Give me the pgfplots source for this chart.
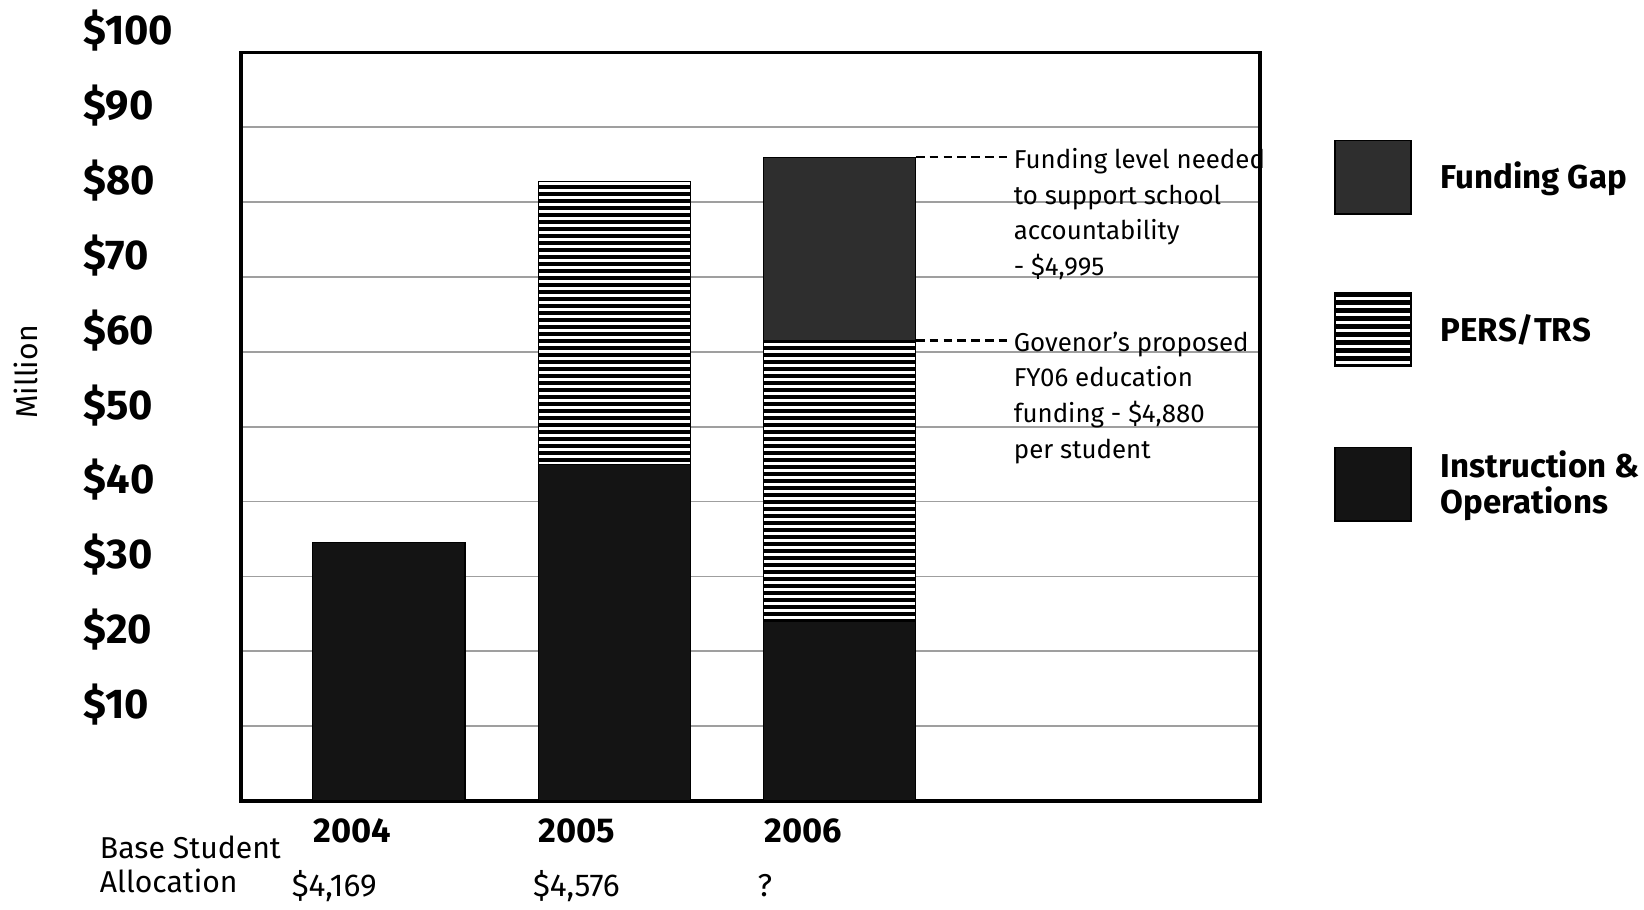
\documentclass[border=0pt]{standalone}
\usepackage{fontspec}
\setmainfont{Fira Sans}
\usepackage{pgfplots}
\pgfplotsset{compat=1.18}
\usetikzlibrary{patterns}
\pgfdeclarepatternformonly{stripes}{\pgfpointorigin}{\pgfpoint{700pt}{2.6pt}}{\pgfpoint{700pt}{2.6pt}}{\pgfpathrectangle{\pgfpointorigin}{\pgfpoint{700pt}{1.1pt}}\pgfusepath{fill}}
\begin{document}
\begin{tikzpicture}
\begin{axis}[
  scale only axis, width=354.7pt, height=260.6pt,
  ybar stacked, bar width=53pt,
  xmin=-0.656, xmax=3.865, ymin=0, ymax=100,
  xtick={0,1,2}, xticklabels={2004,2005,2006},
  ytick={10,20,...,100},
  yticklabels={\$10,\$20,\$30,\$40,\$50,\$60,\$70,\$80,\$90,\$100},
  major tick length=0pt,
  ymajorgrids, major grid style={gray!75, line width=0.6pt},
  axis line style={line width=1.2pt},
  yticklabel style={font=\fontsize{14.5}{16}\selectfont\bfseries, anchor=west, xshift=-55pt, yshift=7.5pt, inner sep=0pt},
  xticklabel style={font=\fontsize{12}{14}\selectfont\bfseries, anchor=north west, xshift=-26.5pt, yshift=-6pt, inner sep=0pt},
  ylabel={Million},
  ylabel style={at={(rel axis cs:-0.211,0.573)}, anchor=center, font=\fontsize{10.5}{12}\selectfont},
  clip=false,
  legend image code/.code={\draw[#1, draw=black, line width=0.6pt] (0pt,-12.75pt) rectangle (26.5pt,12.75pt);},
  reverse legend,
  legend style={draw=none, fill=none, at={(rel axis cs:1.072,0.884)}, anchor=north west, inner sep=0pt, row sep=27pt, column sep=8pt, font=\fontsize{11.5}{13.5}\selectfont\bfseries},
  legend cell align=left,
]
\addplot[fill=black!92, draw=black] coordinates {(0,34.5) (1,45) (2,24)};
\addlegendentry{\shortstack[l]{Instruction \&\\Operations}}
\addplot[fill=black, draw=black, postaction={pattern=stripes, pattern color=white}] coordinates {(0,0) (1,37.8) (2,37.5)};
\addlegendentry{PERS/TRS}
\addplot[fill=black!82, draw=black] coordinates {(0,0) (1,0) (2,24.5)};
\addlegendentry{Funding Gap}

\coordinate (O) at (rel axis cs:0,0);

\draw[dash pattern=on 3pt off 1.8pt, line width=0.9pt] (axis cs:2.338,86) -- (axis cs:2.765,86);
\node[anchor=north west, align=left, inner sep=0pt, font=\fontsize{9}{12.4}\selectfont, yshift=3.3pt] at (axis cs:2.77,86) {Funding level needed\\to support school\\accountability\\- \$4,995};
\draw[dash pattern=on 3pt off 1.8pt, line width=0.9pt] (axis cs:2.338,61.5) -- (axis cs:2.765,61.5);
\node[anchor=north west, align=left, inner sep=0pt, font=\fontsize{9}{12.4}\selectfont, yshift=3.3pt] at (axis cs:2.77,61.5) {Govenor’s proposed\\FY06 education\\funding - \$4,880\\per student};

\node[anchor=west, inner sep=0pt, font=\fontsize{10.5}{12}\selectfont, yshift=-16pt] at (rel axis cs:-0.139,0) {Base Student};
\node[anchor=west, inner sep=0pt, font=\fontsize{10.5}{12}\selectfont, yshift=-27.7pt] at (rel axis cs:-0.139,0) {Allocation};
\node[anchor=west, inner sep=0pt, font=\fontsize{11}{12}\selectfont, yshift=-29.6pt] at (axis cs:-0.433,0) {\$4,169};
\node[anchor=west, inner sep=0pt, font=\fontsize{11}{12}\selectfont, yshift=-29.6pt] at (axis cs:0.637,0) {\$4,576};
\node[anchor=west, inner sep=0pt, font=\fontsize{11}{12}\selectfont, yshift=-29.6pt] at (axis cs:1.633,0) {?};
\end{axis}
\pgfresetboundingbox
\path[use as bounding box] ([shift={(-83.9pt,-37.6pt)}]O) rectangle ([shift={(488.3pt,278.8pt)}]O);
\end{tikzpicture}
\end{document}
